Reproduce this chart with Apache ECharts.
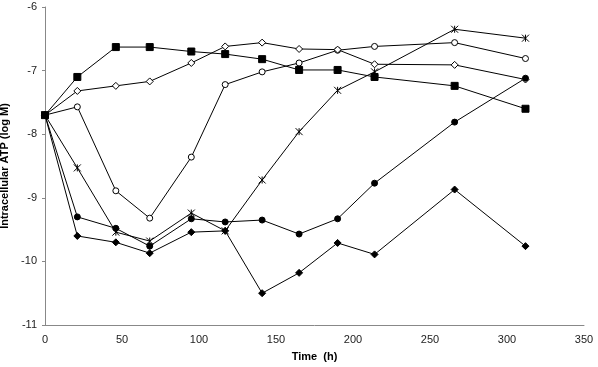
<!DOCTYPE html>
<html>
<head>
<meta charset="utf-8">
<script src="https://cdn.jsdelivr.net/npm/echarts@6/dist/echarts.min.js"></script>
<style>
  html, body { margin: 0; padding: 0; background: #fff; }
  #chart { width: 598px; height: 367px; }
</style>
</head>
<body>
<div id="chart"></div>
<script>
// sampling times (h)
const times = [0, 21, 46, 68, 95, 117, 141, 165, 190, 214, 266, 312];

// log M values per series
const filledSquare = [-7.7, -7.10, -6.63, -6.63, -6.70, -6.74, -6.82, -6.99, -6.99, -7.10, -7.24, -7.60];
const openDiamond = [-7.7, -7.32, -7.24, -7.17, -6.88, -6.62, -6.56, -6.66, -6.67, -6.90, -6.91, -7.14];
const openCircle = [-7.7, -7.57, -8.89, -9.32, -8.36, -7.22, -7.02, -6.88, -6.68, -6.62, -6.56, -6.81];
const asterisk = [-7.7, -8.53, -9.54, -9.68, -9.24, -9.52, -8.72, -7.96, -7.31, -7.02, -6.35, -6.49];
const filledCircle = [-7.7, -9.30, -9.48, -9.76, -9.33, -9.38, -9.35, -9.57, -9.33, -8.77, -7.81, -7.12];
const filledDiamond = [-7.7, -9.60, -9.70, -9.87, -9.54, -9.52, -10.50, -10.18, -9.71, -9.89, -8.87, -9.76];

const pairs = arr => times.map((t, i) => [t, arr[i]]);

const starPath = 'path://M0,0L10,10M10,0L0,10M5,0L5,10';

function line(name, data, symbol, size, fill) {
  return {
    name: name,
    type: 'line',
    data: pairs(data),
    symbol: symbol,
    symbolSize: size,
    showAllSymbol: true,
    lineStyle: { color: '#000', width: 1 },
    itemStyle: { color: fill, borderColor: '#000', borderWidth: 1 },
    emphasis: { disabled: true }
  };
}

const chart = echarts.init(document.getElementById('chart'));
chart.setOption({
  backgroundColor: '#fff',
  animation: false,
  grid: { left: 45, right: 14, top: 7, bottom: 42, outerBoundsMode: 'none', containLabel: false },
  xAxis: {
    type: 'value',
    min: 0, max: 350, interval: 50,
    name: 'Time  (h)',
    nameLocation: 'middle',
    nameGap: 26,
    nameTextStyle: { fontFamily: 'Liberation Sans', fontWeight: 'bold', fontSize: 11, color: '#000' },
    axisLine: { lineStyle: { color: '#888' } },
    axisTick: { show: false },
    splitLine: { show: false },
    axisLabel: { fontFamily: 'Liberation Sans', fontSize: 11, color: '#222', margin: 9 }
  },
  yAxis: {
    type: 'value',
    min: -11, max: -6, interval: 1,
    name: 'Intracellular ATP (log M)',
    nameLocation: 'middle',
    nameRotate: 90,
    nameGap: 32,
    nameTextStyle: { fontFamily: 'Liberation Sans', fontWeight: 'bold', fontSize: 11, color: '#000' },
    axisLine: { show: true, lineStyle: { color: '#888' } },
    axisTick: { show: true, length: 3, lineStyle: { color: '#888' } },
    splitLine: { show: false },
    axisLabel: { fontFamily: 'Liberation Sans', fontSize: 11, color: '#222', margin: 8 }
  },
  series: [
    line('open circle', openCircle, 'circle', 6, '#fff'),
    line('open diamond', openDiamond, 'diamond', 7, '#fff'),
    line('asterisk', asterisk, starPath, 7, '#000'),
    line('filled circle', filledCircle, 'circle', 6, '#000'),
    line('filled diamond', filledDiamond, 'diamond', 7, '#000'),
    line('filled square', filledSquare, 'rect', 7, '#000')
  ]
});
</script>
</body>
</html>
